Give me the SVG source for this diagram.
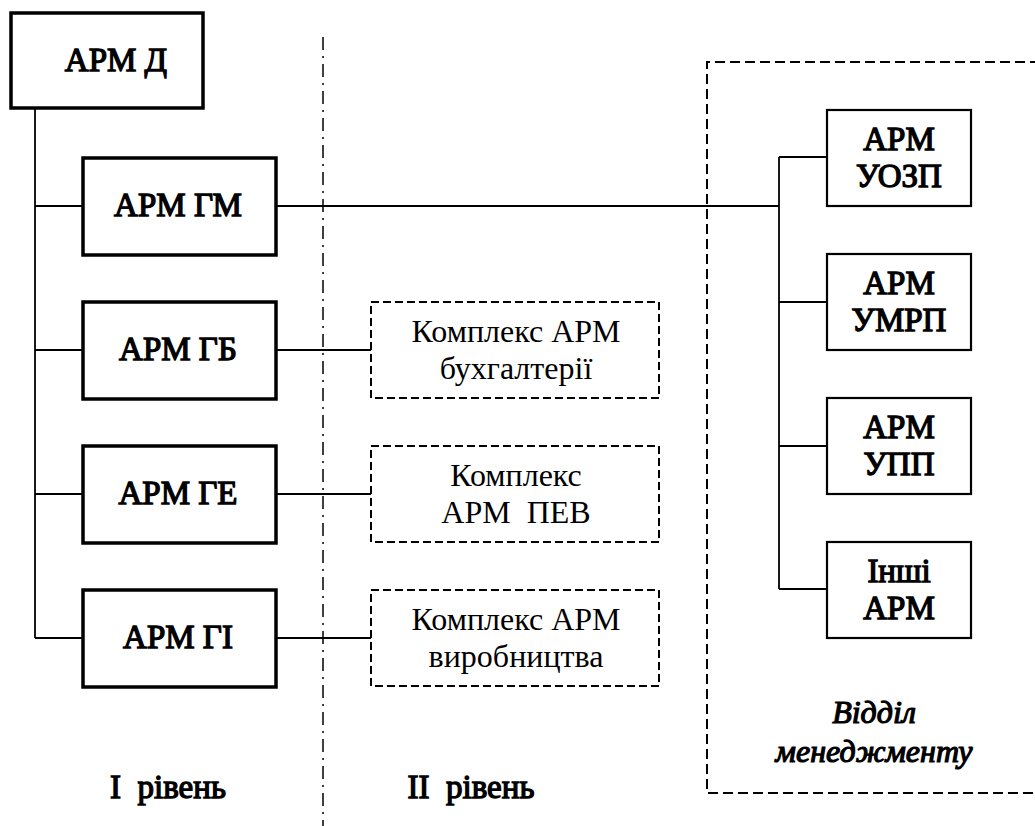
<svg xmlns="http://www.w3.org/2000/svg" width="1035" height="826" viewBox="0 0 1035 826">
  <defs>
    <!-- shared box outlines -->
    <rect id="box-main" width="193" height="97" fill="#ffffff" stroke="#000" stroke-width="3.5"/>
    <rect id="box-sub" width="144" height="96" fill="#ffffff" stroke="#000" stroke-width="2.2"/>
    <rect id="box-cplx" width="288" height="96" fill="#ffffff" stroke="#000" stroke-width="2" stroke-dasharray="8 4"/>
  </defs>

  <rect x="0" y="0" width="1035" height="826" fill="#ffffff"/>

  <!-- level divider -->
  <line x1="323" y1="37" x2="323" y2="826" stroke="#000" stroke-width="1.5" stroke-dasharray="13 6 2 6"/>

  <!-- management department frame -->
  <g id="dept-frame">
    <path d="M1040 62 H707 V793 H1040" fill="none" stroke="#000" stroke-width="2" stroke-dasharray="10 5"/>
    <text x="874" y="723" font-family="Liberation Serif" font-style="italic" font-size="32" stroke="#000" stroke-width="1.2" text-anchor="middle">Відділ</text>
    <text x="874" y="762" font-family="Liberation Serif" font-style="italic" font-size="32" stroke="#000" stroke-width="1.2" text-anchor="middle">менеджменту</text>
  </g>

  <!-- connectors -->
  <g id="connectors" fill="none" stroke="#000" stroke-width="1.8">
    <path d="M35 108 V638"/>
    <path d="M35 206 H83 M35 350 H83 M35 494 H83 M35 638 H83"/>
    <path d="M276 206 H779"/>
    <path d="M276 350 H371 M276 494 H371 M276 638 H371"/>
    <path d="M779 157 V589"/>
    <path d="M779 157 H827 M779 302 H827 M779 446 H827 M779 589 H827"/>
  </g>

  <!-- level I workstations -->
  <g id="arm-d">
    <rect x="11" y="13" width="192" height="95" fill="#ffffff" stroke="#000" stroke-width="3.5"/>
    <text x="116" y="71" font-family="Liberation Serif" font-size="33" stroke="#000" stroke-width="1.3" text-anchor="middle">АРМ Д</text>
  </g>
  <g id="arm-gm">
    <use href="#box-main" x="83" y="158"/>
    <text x="178" y="216" font-family="Liberation Serif" font-size="33" stroke="#000" stroke-width="1.3" text-anchor="middle">АРМ ГМ</text>
  </g>
  <g id="arm-gb">
    <use href="#box-main" x="83" y="302"/>
    <text x="178" y="360" font-family="Liberation Serif" font-size="33" stroke="#000" stroke-width="1.3" text-anchor="middle">АРМ ГБ</text>
  </g>
  <g id="arm-ge">
    <use href="#box-main" x="83" y="446"/>
    <text x="178" y="504" font-family="Liberation Serif" font-size="33" stroke="#000" stroke-width="1.3" text-anchor="middle">АРМ ГЕ</text>
  </g>
  <g id="arm-gi">
    <use href="#box-main" x="83" y="590"/>
    <text x="178" y="648" font-family="Liberation Serif" font-size="33" stroke="#000" stroke-width="1.3" text-anchor="middle">АРМ ГІ</text>
  </g>

  <!-- level II complexes -->
  <g id="cplx-buh">
    <use href="#box-cplx" x="371" y="302"/>
    <text x="516" y="342" font-family="Liberation Serif" font-size="32" text-anchor="middle">Комплекс АРМ</text>
    <text x="516" y="379" font-family="Liberation Serif" font-size="32" text-anchor="middle">бухгалтерії</text>
  </g>
  <g id="cplx-pev">
    <use href="#box-cplx" x="371" y="446"/>
    <text x="516" y="486" font-family="Liberation Serif" font-size="32" text-anchor="middle">Комплекс</text>
    <text x="516" y="523" font-family="Liberation Serif" font-size="32" text-anchor="middle" xml:space="preserve">АРМ  ПЕВ</text>
  </g>
  <g id="cplx-vyr">
    <use href="#box-cplx" x="371" y="590"/>
    <text x="516" y="630" font-family="Liberation Serif" font-size="32" text-anchor="middle">Комплекс АРМ</text>
    <text x="516" y="667" font-family="Liberation Serif" font-size="32" text-anchor="middle">виробництва</text>
  </g>

  <!-- management workstations -->
  <g id="arm-uozp">
    <use href="#box-sub" x="827" y="110"/>
    <text x="899" y="150" font-family="Liberation Serif" font-size="33" stroke="#000" stroke-width="1.3" text-anchor="middle">АРМ</text>
    <text x="899" y="187" font-family="Liberation Serif" font-size="33" stroke="#000" stroke-width="1.3" text-anchor="middle">УОЗП</text>
  </g>
  <g id="arm-umrp">
    <use href="#box-sub" x="827" y="254"/>
    <text x="899" y="294" font-family="Liberation Serif" font-size="33" stroke="#000" stroke-width="1.3" text-anchor="middle">АРМ</text>
    <text x="899" y="331" font-family="Liberation Serif" font-size="33" stroke="#000" stroke-width="1.3" text-anchor="middle">УМРП</text>
  </g>
  <g id="arm-upp">
    <use href="#box-sub" x="827" y="398"/>
    <text x="899" y="438" font-family="Liberation Serif" font-size="33" stroke="#000" stroke-width="1.3" text-anchor="middle">АРМ</text>
    <text x="899" y="475" font-family="Liberation Serif" font-size="33" stroke="#000" stroke-width="1.3" text-anchor="middle">УПП</text>
  </g>
  <g id="arm-inshi">
    <use href="#box-sub" x="827" y="542"/>
    <text x="899" y="582" font-family="Liberation Serif" font-size="33" stroke="#000" stroke-width="1.3" text-anchor="middle">Інші</text>
    <text x="899" y="619" font-family="Liberation Serif" font-size="33" stroke="#000" stroke-width="1.3" text-anchor="middle">АРМ</text>
  </g>

  <!-- level captions -->
  <text x="168" y="798" font-family="Liberation Serif" font-size="33" stroke="#000" stroke-width="1.3" text-anchor="middle" xml:space="preserve">I  рівень</text>
  <text x="471" y="798" font-family="Liberation Serif" font-size="33" stroke="#000" stroke-width="1.3" text-anchor="middle" xml:space="preserve">II  рівень</text>
</svg>
